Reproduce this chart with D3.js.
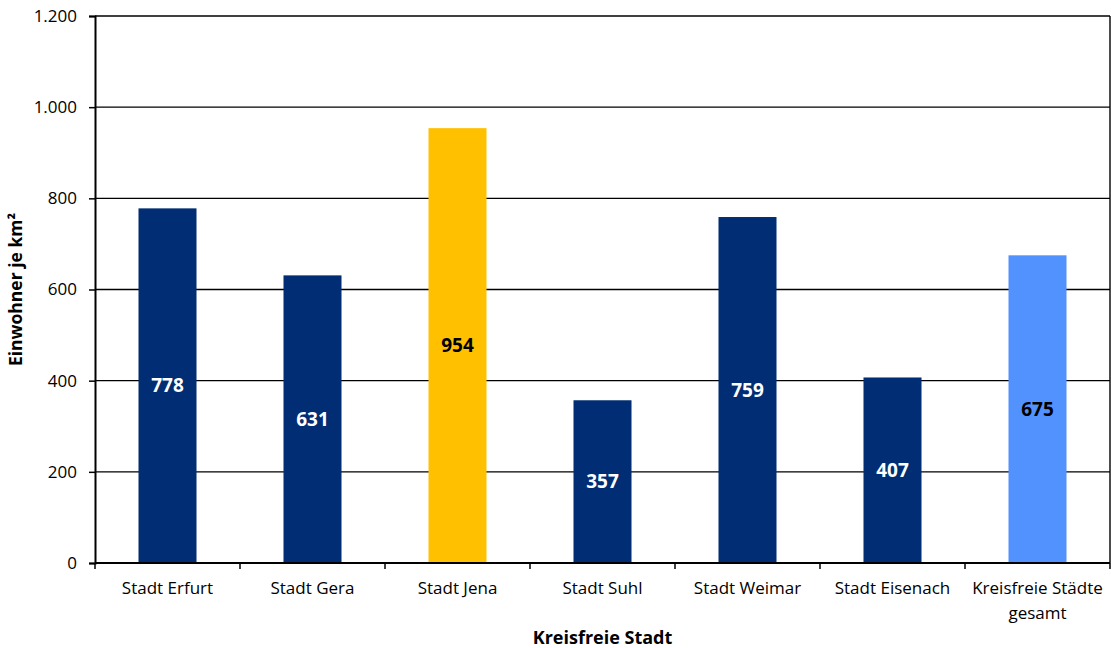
<!DOCTYPE html>
<html><head><meta charset="utf-8">
<script src="https://cdn.jsdelivr.net/npm/d3@7"></script>
<style>body{margin:0;background:#fff}svg{display:block}</style>
</head><body>
<svg id="c" width="1111" height="648"></svg>
<script>
const categories = ["Stadt Erfurt","Stadt Gera","Stadt Jena","Stadt Suhl","Stadt Weimar","Stadt Eisenach","Kreisfreie Städte gesamt"];
const values = [778, 631, 954, 357, 759, 407, 675];
const barColors = ["#002D73","#002D73","#FFC000","#002D73","#002D73","#002D73","#5292FF"];
const labelColors = ["#fff","#fff","#000","#fff","#fff","#fff","#000"];
const yTicks = [0,200,400,600,800,1000,1200];
const yTitle = "Einwohner je km²";
const xTitle = "Kreisfreie Stadt";

const svg = d3.select("#c");
const font = "'Open Sans', sans-serif";
const m = {l:95, r:1110, t:16, b:563};
const x = d3.scaleBand().domain(categories).range([m.l, m.r]).paddingInner(0.6).paddingOuter(0.3);
const xb = d3.scaleBand().domain(categories).range([m.l, m.r]);
const y = d3.scaleLinear().domain([0,1200]).range([m.b, m.t]);
const fmt = v => d3.format(",")(v).replace(/,/g, ".");

// gridlines
svg.append("g").selectAll("line").data(yTicks.filter(d=>d>0)).join("line")
  .attr("x1", m.l).attr("x2", m.r).attr("y1", d=>y(d)).attr("y2", d=>y(d))
  .attr("stroke","#000").attr("stroke-width",1.4);
// right border
svg.append("line").attr("x1",m.r).attr("x2",m.r).attr("y1",m.t).attr("y2",m.b).attr("stroke","#000").attr("stroke-width",1.4);

// bars
svg.append("g").selectAll("rect").data(values).join("rect")
  .attr("x",(d,i)=>x(categories[i])).attr("width",x.bandwidth())
  .attr("y",d=>y(d)).attr("height",d=>y(0)-y(d))
  .attr("fill",(d,i)=>barColors[i]);

// value labels
svg.append("g").selectAll("text").data(values).join("text")
  .attr("x",(d,i)=>x(categories[i])+x.bandwidth()/2)
  .attr("y",d=>(y(d)+y(0))/2)
  .attr("dy","0.35em").attr("text-anchor","middle")
  .attr("font-family",font).attr("font-weight","bold").attr("font-size",19)
  .attr("fill",(d,i)=>labelColors[i]).text(d=>d);

// y axis
const ya = svg.append("g").attr("transform",`translate(${m.l},0)`)
  .call(d3.axisLeft(y).tickValues(yTicks).tickFormat(fmt).tickSize(6).tickPadding(12));
ya.select(".domain").attr("stroke","#000").attr("stroke-width",2);
ya.selectAll(".tick line").attr("stroke","#000").attr("stroke-width",1.5);
ya.selectAll("text").attr("font-family",font).attr("font-size",17).attr("fill","#000");

// x axis
const xa = svg.append("g").attr("transform",`translate(0,${m.b})`);
xa.append("line").attr("x1",m.l).attr("x2",m.r).attr("y1",0).attr("y2",0).attr("stroke","#000").attr("stroke-width",2);
xa.selectAll("line.tk").data(categories.concat(["__end"])).join("line").attr("class","tk")
  .attr("x1",(d,i)=>m.l+i*xb.step()).attr("x2",(d,i)=>m.l+i*xb.step())
  .attr("y1",0).attr("y2",6).attr("stroke","#000").attr("stroke-width",1.5);
const xl = xa.selectAll("text.lbl").data(categories).join("text").attr("class","lbl")
  .attr("x",d=>xb(d)+xb.bandwidth()/2).attr("y",31)
  .attr("text-anchor","middle").attr("font-family",font).attr("font-size",17).attr("fill","#000");
xl.each(function(d){
  const t = d3.select(this);
  const parts = d === "Kreisfreie Städte gesamt" ? ["Kreisfreie Städte","gesamt"] : [d];
  parts.forEach((p,k)=>t.append("tspan").attr("x",xb(d)+xb.bandwidth()/2).attr("dy",k?"1.45em":0).text(p));
});

// titles
svg.append("text").attr("x",(m.l+m.r)/2).attr("y",644).attr("text-anchor","middle")
  .attr("font-family",font).attr("font-weight","bold").attr("font-size",18).text(xTitle);
svg.append("text").attr("transform",`translate(22,${(m.t+m.b)/2}) rotate(-90)`).attr("text-anchor","middle")
  .attr("font-family",font).attr("font-weight","bold").attr("font-size",17.5).text(yTitle);
</script>
</body></html>
